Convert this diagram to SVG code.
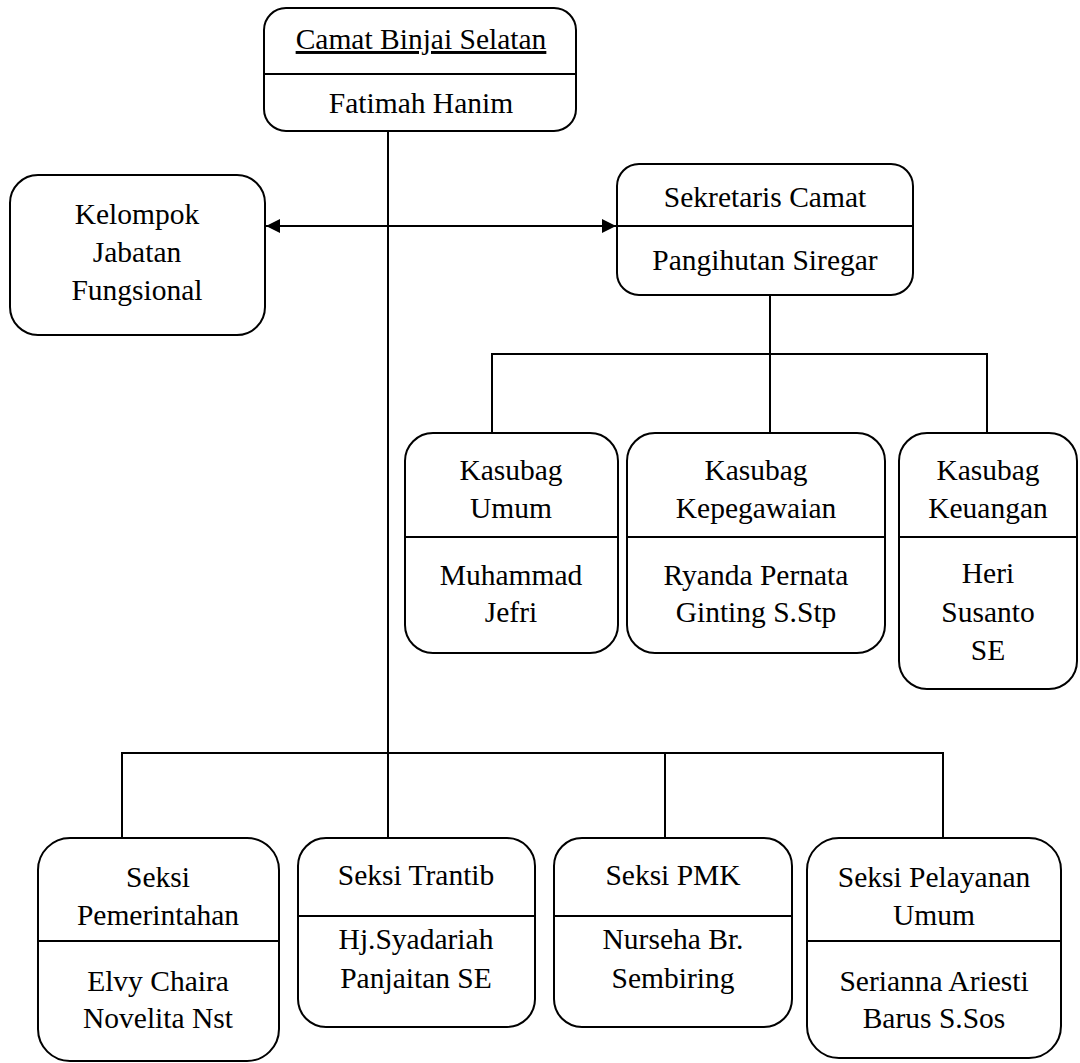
<svg xmlns="http://www.w3.org/2000/svg" width="1080" height="1063" viewBox="0 0 1080 1063">
<style>
.box{fill:#fff;stroke:#000;stroke-width:2}
.div{stroke:#000;stroke-width:2}
.c{fill:none;stroke:#000;stroke-width:2}
</style>
<defs>
<marker id="ah" viewBox="0 0 14 14" refX="14" refY="7" markerWidth="14" markerHeight="14" markerUnits="userSpaceOnUse" orient="auto-start-reverse">
<path d="M0,0 L14,7 L0,14 Z" fill="#000"/>
</marker>
</defs>
<g id="connectors">
<path class="c" d="M388,131 V753"/>
<path class="c" d="M122,838 V753 H943 V838"/>
<path class="c" d="M388,753 V838"/>
<path class="c" d="M665,753 V838"/>
<path class="c" d="M266,226 H616" marker-start="url(#ah)" marker-end="url(#ah)"/>
<path class="c" d="M770,296 V433"/>
<path class="c" d="M492,433 V354 H987 V433"/>
</g>
<g id="camat">
<rect class="box" x="264" y="8" width="312" height="123" rx="22"/>
<line class="div" x1="264" y1="74" x2="576" y2="74"/>
<text style="font-family:'Liberation Serif',serif;font-size:29.5px" text-anchor="middle" x="421" y="49" text-decoration="underline">Camat Binjai Selatan</text>
<text style="font-family:'Liberation Serif',serif;font-size:29.5px" text-anchor="middle" x="421" y="113">Fatimah Hanim</text>
</g>
<g id="kelompok">
<rect class="box" x="10" y="175" width="255" height="160" rx="28"/>
<text style="font-family:'Liberation Serif',serif;font-size:29.5px" text-anchor="middle" x="137" y="224">Kelompok</text>
<text style="font-family:'Liberation Serif',serif;font-size:29.5px" text-anchor="middle" x="137" y="262">Jabatan</text>
<text style="font-family:'Liberation Serif',serif;font-size:29.5px" text-anchor="middle" x="137" y="300">Fungsional</text>
</g>
<g id="sekretaris">
<rect class="box" x="617" y="164" width="296" height="131" rx="22"/>
<line class="div" x1="617" y1="226" x2="913" y2="226"/>
<text style="font-family:'Liberation Serif',serif;font-size:29.5px" text-anchor="middle" x="765" y="207">Sekretaris Camat</text>
<text style="font-family:'Liberation Serif',serif;font-size:29.5px" text-anchor="middle" x="765" y="270">Pangihutan Siregar</text>
</g>
<g id="kasubag-umum">
<rect class="box" x="405" y="433" width="213" height="220" rx="28"/>
<line class="div" x1="405" y1="537" x2="618" y2="537"/>
<text style="font-family:'Liberation Serif',serif;font-size:29.5px" text-anchor="middle" x="511" y="480">Kasubag</text>
<text style="font-family:'Liberation Serif',serif;font-size:29.5px" text-anchor="middle" x="511" y="518">Umum</text>
<text style="font-family:'Liberation Serif',serif;font-size:29.5px" text-anchor="middle" x="511" y="585">Muhammad</text>
<text style="font-family:'Liberation Serif',serif;font-size:29.5px" text-anchor="middle" x="511" y="622">Jefri</text>
</g>
<g id="kasubag-kepegawaian">
<rect class="box" x="627" y="433" width="258" height="220" rx="28"/>
<line class="div" x1="627" y1="537" x2="885" y2="537"/>
<text style="font-family:'Liberation Serif',serif;font-size:29.5px" text-anchor="middle" x="756" y="480">Kasubag</text>
<text style="font-family:'Liberation Serif',serif;font-size:29.5px" text-anchor="middle" x="756" y="518">Kepegawaian</text>
<text style="font-family:'Liberation Serif',serif;font-size:29.5px" text-anchor="middle" x="756" y="585">Ryanda Pernata</text>
<text style="font-family:'Liberation Serif',serif;font-size:29.5px" text-anchor="middle" x="756" y="622">Ginting S.Stp</text>
</g>
<g id="kasubag-keuangan">
<rect class="box" x="899" y="433" width="178" height="256" rx="28"/>
<line class="div" x1="899" y1="537" x2="1077" y2="537"/>
<text style="font-family:'Liberation Serif',serif;font-size:29.5px" text-anchor="middle" x="988" y="480">Kasubag</text>
<text style="font-family:'Liberation Serif',serif;font-size:29.5px" text-anchor="middle" x="988" y="518">Keuangan</text>
<text style="font-family:'Liberation Serif',serif;font-size:29.5px" text-anchor="middle" x="988" y="583">Heri</text>
<text style="font-family:'Liberation Serif',serif;font-size:29.5px" text-anchor="middle" x="988" y="622">Susanto</text>
<text style="font-family:'Liberation Serif',serif;font-size:29.5px" text-anchor="middle" x="988" y="660">SE</text>
</g>
<g id="seksi-pemerintahan">
<rect class="box" x="38" y="838" width="241" height="223" rx="32"/>
<line class="div" x1="38" y1="941" x2="279" y2="941"/>
<text style="font-family:'Liberation Serif',serif;font-size:29.5px" text-anchor="middle" x="158" y="887">Seksi</text>
<text style="font-family:'Liberation Serif',serif;font-size:29.5px" text-anchor="middle" x="158" y="925">Pemerintahan</text>
<text style="font-family:'Liberation Serif',serif;font-size:29.5px" text-anchor="middle" x="158" y="991">Elvy Chaira</text>
<text style="font-family:'Liberation Serif',serif;font-size:29.5px" text-anchor="middle" x="158" y="1028">Novelita Nst</text>
</g>
<g id="seksi-trantib">
<rect class="box" x="298" y="838" width="237" height="189" rx="28"/>
<line class="div" x1="298" y1="916" x2="535" y2="916"/>
<text style="font-family:'Liberation Serif',serif;font-size:29.5px" text-anchor="middle" x="416" y="885">Seksi Trantib</text>
<text style="font-family:'Liberation Serif',serif;font-size:29.5px" text-anchor="middle" x="416" y="949">Hj.Syadariah</text>
<text style="font-family:'Liberation Serif',serif;font-size:29.5px" text-anchor="middle" x="416" y="988">Panjaitan SE</text>
</g>
<g id="seksi-pmk">
<rect class="box" x="554" y="838" width="238" height="189" rx="28"/>
<line class="div" x1="554" y1="916" x2="792" y2="916"/>
<text style="font-family:'Liberation Serif',serif;font-size:29.5px" text-anchor="middle" x="673" y="885">Seksi PMK</text>
<text style="font-family:'Liberation Serif',serif;font-size:29.5px" text-anchor="middle" x="673" y="949">Nurseha Br.</text>
<text style="font-family:'Liberation Serif',serif;font-size:29.5px" text-anchor="middle" x="673" y="988">Sembiring</text>
</g>
<g id="seksi-pelayanan">
<rect class="box" x="807" y="838" width="254" height="220" rx="32"/>
<line class="div" x1="807" y1="941" x2="1061" y2="941"/>
<text style="font-family:'Liberation Serif',serif;font-size:29.5px" text-anchor="middle" x="934" y="887">Seksi Pelayanan</text>
<text style="font-family:'Liberation Serif',serif;font-size:29.5px" text-anchor="middle" x="934" y="925">Umum</text>
<text style="font-family:'Liberation Serif',serif;font-size:29.5px" text-anchor="middle" x="934" y="991">Serianna Ariesti</text>
<text style="font-family:'Liberation Serif',serif;font-size:29.5px" text-anchor="middle" x="934" y="1028">Barus S.Sos</text>
</g>
</svg>
